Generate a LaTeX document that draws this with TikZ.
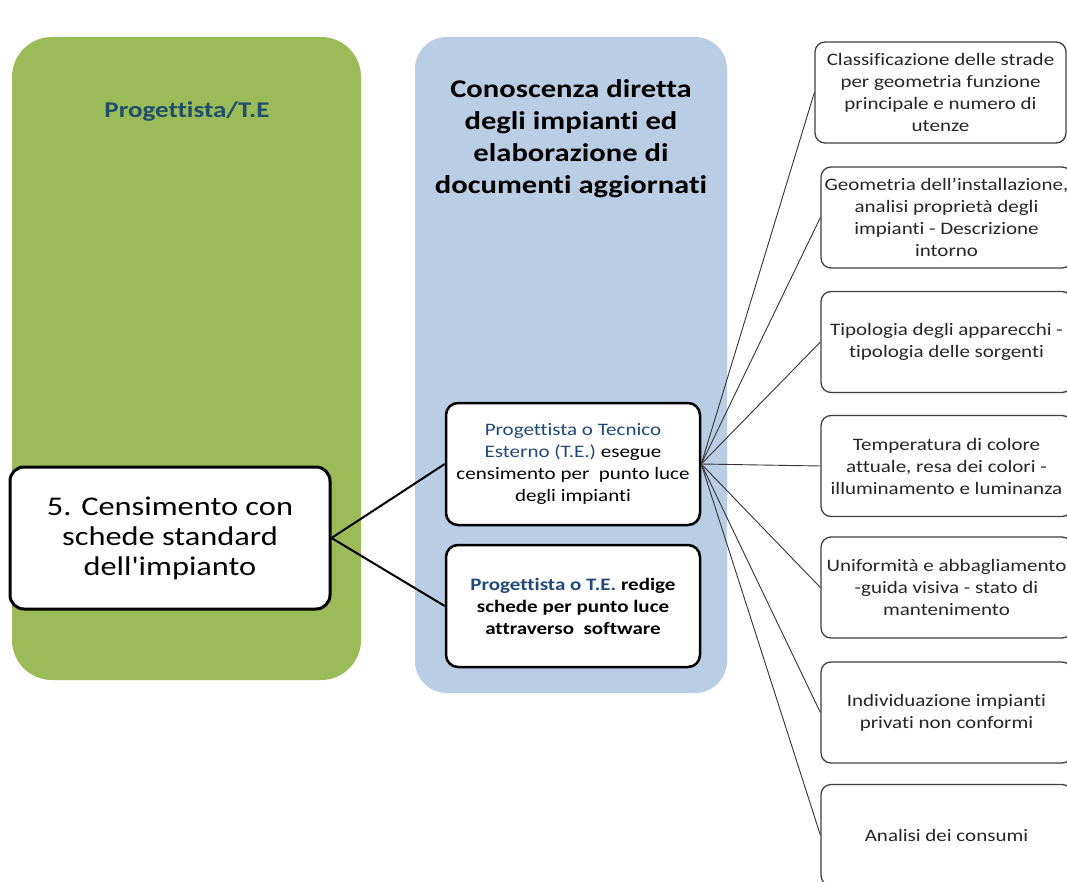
\documentclass[tikz,border=0pt]{standalone}
\usepackage{fontspec}
\setmainfont[FakeStretch=1.2,Ligatures={TeXOff,CommonOff}]{Carlito}
\definecolor{panelgreen}{HTML}{9BBB59}
\definecolor{panelblue}{HTML}{B9CDE5}
\definecolor{titleblue}{HTML}{1F4E6B}
\definecolor{textblue}{HTML}{1F497D}
\definecolor{boxline}{HTML}{404040}
\tikzset{
  leftbox/.style={draw=black, line width=3pt, fill=white, rounded corners=14pt,
    minimum width=320pt, minimum height=142pt, align=center,
    font=\fontsize{27}{30}\selectfont},
  midbox/.style={draw=black, line width=2.5pt, fill=white, rounded corners=12pt,
    minimum width=254pt, minimum height=122pt, align=center,
    font=\fontsize{17.5}{22}\selectfont},
  rbox/.style={draw=boxline, line width=1.3pt, fill=white, rounded corners=10pt,
    minimum width=251pt, minimum height=101pt, align=center, text=black!85,
    font=\fontsize{17.5}{22}\selectfont},
  thickcon/.style={draw=black, line width=2pt},
  thincon/.style={draw=black!80, line width=0.9pt}
}
\begin{document}
\begin{tikzpicture}[x=1pt,y=-1pt]
\useasboundingbox (0,0) rectangle (1067,882);
\clip (0,0) rectangle (1067,882);
\fill[white] (0,0) rectangle (1067,882);
% panels
\fill[panelgreen, rounded corners=40pt] (12,37) rectangle (361,680);
\fill[panelblue, rounded corners=32pt] (415,37) rectangle (727,693);
\node[text=titleblue, font=\fontsize{22.5}{26}\selectfont\bfseries] (gtitle) at (187,112) {Progettista/T.E};
\node[align=center, font=\fontsize{25.5}{32}\selectfont\bfseries] (btitle) at (571,139)
  {Conoscenza diretta\\degli impianti ed\\elaborazione di\\documenti aggiornati};
% main boxes
\node[leftbox] (left) at (170,538) {5. Censimento con\\schede standard\\dell'impianto};
\node[midbox] (mid1) at (573,464)
  {\textcolor{textblue}{Progettista o Tecnico}\\\textcolor{textblue}{Esterno (T.E.)} esegue\\censimento per\ \ punto luce\\degli impianti};
\node[midbox, font=\fontsize{17.5}{22}\selectfont\bfseries] (mid2) at (573,606)
  {\textcolor{textblue}{Progettista o T.E.} redige\\schede per punto luce\\attraverso\ \ software};
% right boxes
\node[rbox] (r1) at (940.5,92.5) {Classificazione delle strade\\per geometria funzione\\principale e numero di\\utenze};
\node[rbox] (r2) at (946.5,217.5) {Geometria dell’installazione,\\analisi proprietà degli\\impianti - Descrizione\\intorno};
\node[rbox] (r3) at (946.5,342) {Tipologia degli apparecchi -\\tipologia delle sorgenti};
\node[rbox] (r4) at (946.5,466) {Temperatura di colore\\attuale, resa dei colori -\\illuminamento e luminanza};
\node[rbox] (r5) at (946.5,587.5) {Uniformità e abbagliamento\\-guida visiva - stato di\\mantenimento};
\node[rbox] (r6) at (946.5,712.5) {Individuazione impianti\\privati non conformi};
\node[rbox] (r7) at (946.5,835) {Analisi dei consumi};
% connectors
\draw[thickcon] (left.east) -- (mid1.west);
\draw[thickcon] (left.east) -- (mid2.west);
\foreach \r in {r1,r2,r3,r4,r5,r6,r7}{
  \draw[thincon] (mid1.east) -- (\r.west);
}
\end{tikzpicture}
\end{document}
